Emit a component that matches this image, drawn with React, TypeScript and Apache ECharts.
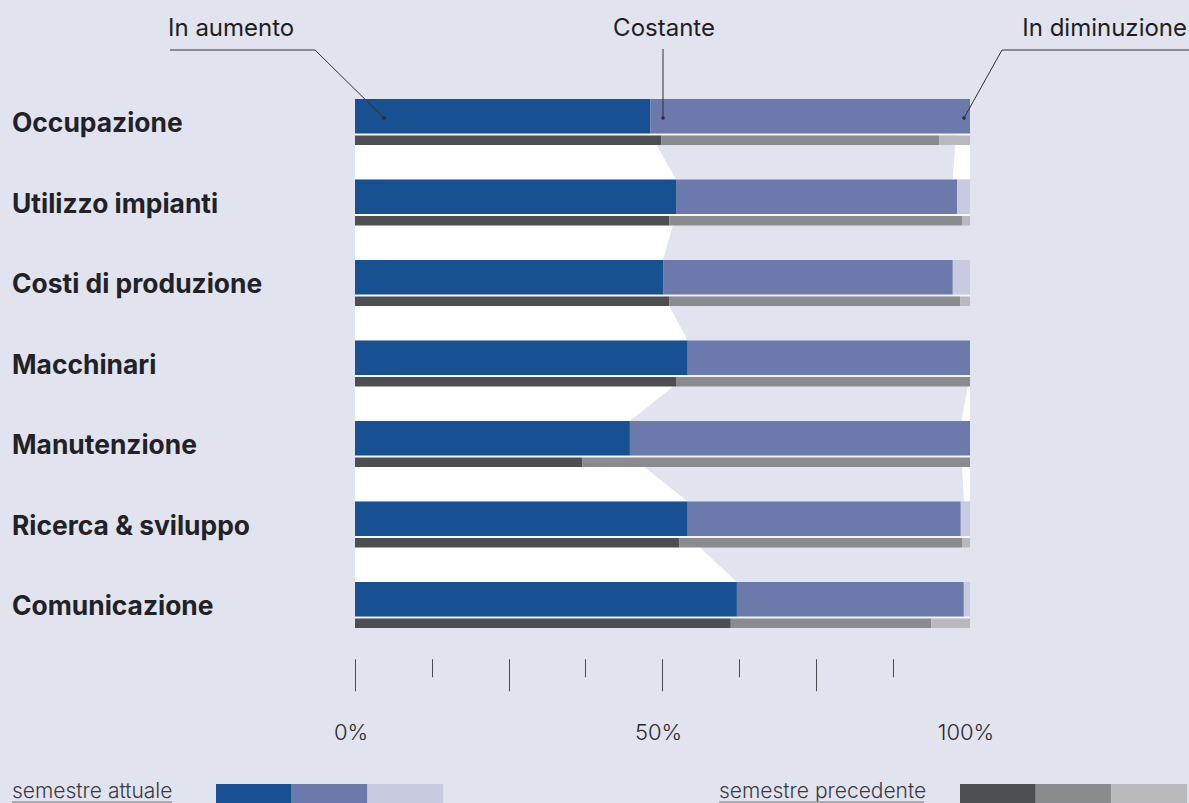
import React, { useEffect, useRef } from 'react';
import * as echarts from 'echarts';

// ---------- data ----------
const categories = [
  'Occupazione',
  'Utilizzo impianti',
  'Costi di produzione',
  'Macchinari',
  'Manutenzione',
  'Ricerca & sviluppo',
  'Comunicazione',
];
// semestre attuale (%)
const curIncrease = [48.0, 52.2, 50.1, 54.1, 44.7, 54.1, 62.1];
const curConstant = [52.0, 45.7, 47.1, 45.9, 55.3, 44.4, 36.9];
const curDecrease = [0.0, 2.1, 2.8, 0.0, 0.0, 1.5, 1.0];
// semestre precedente (%)
const prevIncrease = [49.8, 51.1, 51.1, 52.2, 37.0, 52.7, 61.1];
const prevConstant = [45.2, 47.6, 47.3, 47.8, 63.0, 46.0, 32.6];
const prevDecrease = [5.0, 1.3, 1.6, 0.0, 0.0, 1.3, 6.3];
// right-hand white connectors between rows (start %, at top and bottom of each gap)
const decreaseLinkTop = [97.7, 100, 100, 100, 98.6, 100];
const decreaseLinkBottom = [97.2, 100, 100, 98.6, 99.0, 100];
// axis
const majorTicks = [0, 25, 50, 75];
const tickLabels = [0, 50, 100];
const annotationLabels = ['In aumento', 'Costante', 'In diminuzione'];
const legendLabels = ['semestre attuale', 'semestre precedente'];

// ---------- styles ----------
const BG = '#e1e3ef';
const CUR_COLORS = ['#175191', '#6c7aab', '#c8cadf'];
const PREV_COLORS = ['#4d4e50', '#8a8b8e', '#b9b9bd'];
const FONT = 'Inter, "Noto Sans", sans-serif';
const BAND = 80.5;
const THICK_TOP = -23;
const THICK_BOT = 11.5;
const THIN_TOP = 13.5;
const THIN_BOT = 23;

function barRenderer(colors: string[], top: number, bot: number, sep: boolean) {
  return (params: any, api: any) => {
    const i = api.value(0);
    const cy = api.coord([0, i])[1];
    const k = api.size([0, 1])[1] / BAND;
    const y0 = cy + top * k;
    const h = (bot - top) * k;
    const children: any[] = [];
    if (sep) {
      const xa = api.coord([0, i])[0];
      const xb = api.coord([100, i])[0];
      children.push({
        type: 'rect',
        shape: { x: xa, y: cy + bot * k, width: xb - xa, height: (THIN_TOP - THICK_BOT) * k },
        style: { fill: '#f7f7fb' },
      });
    }
    let acc = 0;
    for (let j = 0; j < 3; j++) {
      const v = api.value(j + 1);
      const xs = api.coord([acc, i])[0];
      const xe = api.coord([acc + v, i])[0];
      if (v > 0) {
        children.push({
          type: 'rect',
          shape: { x: xs, y: y0, width: xe - xs, height: h },
          style: { fill: colors[j] },
        });
      }
      acc += v;
    }
    return { type: 'group', children };
  };
}

function linkRenderer(params: any, api: any) {
  const i = api.value(0);
  const k = api.size([0, 1])[1] / BAND;
  const yTop = api.coord([0, i])[1] + THICK_BOT * k;
  const yBot = api.coord([0, i + 1])[1] + THICK_TOP * k;
  const x0 = api.coord([0, i])[0];
  const x100 = api.coord([100, i])[0];
  const xa = api.coord([api.value(1), i])[0];
  const xb = api.coord([api.value(2), i])[0];
  const xc = api.coord([api.value(3), i])[0];
  const xd = api.coord([api.value(4), i])[0];
  const children: any[] = [
    {
      type: 'polygon',
      shape: { points: [[x0, yTop], [xa, yTop], [xb, yBot], [x0, yBot]] },
      style: { fill: '#ffffff' },
    },
  ];
  if (api.value(3) < 100 || api.value(4) < 100) {
    children.push({
      type: 'polygon',
      shape: { points: [[xc, yTop], [x100, yTop], [x100, yBot], [xd, yBot]] },
      style: { fill: '#ffffff' },
    });
  }
  return { type: 'group', children };
}

export default function App() {
  const ref = useRef<HTMLDivElement>(null);
  useEffect(() => {
    document.body.style.margin = '0';
    document.body.style.background = BG;
    const chart = echarts.init(ref.current!, null, { renderer: 'svg' });

    const curData = categories.map((_, i) => [i, curIncrease[i], curConstant[i], curDecrease[i]]);
    const prevData = categories.map((_, i) => [i, prevIncrease[i], prevConstant[i], prevDecrease[i]]);
    const linkData = categories.slice(0, -1).map((_, i) => [
      i,
      curIncrease[i],
      curIncrease[i + 1],
      decreaseLinkTop[i],
      decreaseLinkBottom[i],
    ]);

    const lineDark = { stroke: '#2f2f33', lineWidth: 1 };
    const lineGray = { stroke: '#6e6e72', lineWidth: 1.5 };
    const textStyle = (extra: any) => ({
      fontFamily: FONT,
      fill: '#1e1e22',
      ...extra,
    });

    const legendBoxes: any[] = [];
    CUR_COLORS.forEach((c, j) =>
      legendBoxes.push({ type: 'rect', shape: { x: 216 + j * 75.7, y: 784, width: 75.7, height: 19 }, style: { fill: c } })
    );
    PREV_COLORS.forEach((c, j) =>
      legendBoxes.push({ type: 'rect', shape: { x: 960 + j * 75.7, y: 784, width: 75.7, height: 19 }, style: { fill: c } })
    );

    chart.setOption({
      animation: false,
      backgroundColor: BG,
      grid: { left: 355, right: 219, top: 81.75, height: 563.5, containLabel: false },
      xAxis: {
        type: 'value',
        min: 0,
        max: 100,
        interval: 25,
        offset: 14,
        axisLine: { show: false },
        splitLine: { show: false },
        axisTick: { show: true, customValues: majorTicks, length: 32, lineStyle: { color: '#4a4a4e', width: 1 } },
        minorTick: { show: true, splitNumber: 2, length: 18, lineStyle: { color: '#4a4a4e', width: 1 } },
        minorSplitLine: { show: false },
        axisLabel: {
          customValues: tickLabels,
          formatter: '{value}%',
          margin: 62,
          padding: [0, 8, 0, 0],
          fontFamily: FONT,
          fontSize: 22,
          fontWeight: 300,
          color: '#2a2a2e',
        },
      },
      yAxis: {
        type: 'category',
        data: categories,
        inverse: true,
        axisLine: { show: false },
        axisTick: { show: false },
        splitLine: { show: false },
        axisLabel: {
          align: 'left',
          margin: 343,
          fontFamily: FONT,
          fontSize: 26.4,
          fontWeight: 700,
          color: '#222226',
        },
      },
      series: [
        {
          type: 'custom',
          name: 'links',
          renderItem: linkRenderer,
          data: linkData,
          encode: { y: 0, x: [1, 2] },
          z: 1,
          silent: true,
        },
        {
          type: 'custom',
          name: legendLabels[0],
          renderItem: barRenderer(CUR_COLORS, THICK_TOP, THICK_BOT, true),
          data: curData,
          encode: { y: 0, x: [1, 2, 3] },
          z: 2,
        },
        {
          type: 'custom',
          name: legendLabels[1],
          renderItem: barRenderer(PREV_COLORS, THIN_TOP, THIN_BOT, false),
          data: prevData,
          encode: { y: 0, x: [1, 2, 3] },
          z: 3,
        },
      ],
      graphic: [
        // annotations
        { type: 'text', x: 168, y: 27, style: textStyle({ text: annotationLabels[0], fontSize: 24, textAlign: 'left', textVerticalAlign: 'middle' }) },
        { type: 'text', x: 664, y: 27, style: textStyle({ text: annotationLabels[1], fontSize: 24, textAlign: 'center', textVerticalAlign: 'middle' }) },
        { type: 'text', x: 1187, y: 27, style: textStyle({ text: annotationLabels[2], fontSize: 24, textAlign: 'right', textVerticalAlign: 'middle' }) },
        { type: 'line', shape: { x1: 170, y1: 50, x2: 315, y2: 50 }, style: lineGray },
        { type: 'line', shape: { x1: 315, y1: 50, x2: 384, y2: 118 }, style: lineDark, z: 10 },
        { type: 'circle', shape: { cx: 384, cy: 118, r: 1.8 }, style: { fill: '#2f2f33' }, z: 10 },
        { type: 'line', shape: { x1: 663, y1: 49, x2: 663, y2: 118 }, style: lineDark, z: 10 },
        { type: 'circle', shape: { cx: 663, cy: 118, r: 1.8 }, style: { fill: '#2f2f33' }, z: 10 },
        { type: 'line', shape: { x1: 1002, y1: 50, x2: 1189, y2: 50 }, style: lineGray },
        { type: 'line', shape: { x1: 1002, y1: 50, x2: 964, y2: 118 }, style: lineDark, z: 10 },
        { type: 'circle', shape: { cx: 964, cy: 118, r: 1.8 }, style: { fill: '#2f2f33' }, z: 10 },
        // legend
        { type: 'text', x: 12, y: 790, style: textStyle({ text: legendLabels[0], fontSize: 21, fontWeight: 300, fill: '#3a3a3e', textVerticalAlign: 'middle' }) },
        { type: 'line', shape: { x1: 12, y1: 802, x2: 172, y2: 802 }, style: { stroke: '#9a9aa0', lineWidth: 1.5 } },
        { type: 'text', x: 719, y: 790, style: textStyle({ text: legendLabels[1], fontSize: 21, fontWeight: 300, fill: '#3a3a3e', textVerticalAlign: 'middle' }) },
        { type: 'line', shape: { x1: 719, y1: 802, x2: 924, y2: 802 }, style: { stroke: '#9a9aa0', lineWidth: 1.5 } },
        ...legendBoxes,
      ],
    });
    return () => chart.dispose();
  }, []);
  return <div ref={ref} style={{ width: 1189, height: 803 }} />;
}
